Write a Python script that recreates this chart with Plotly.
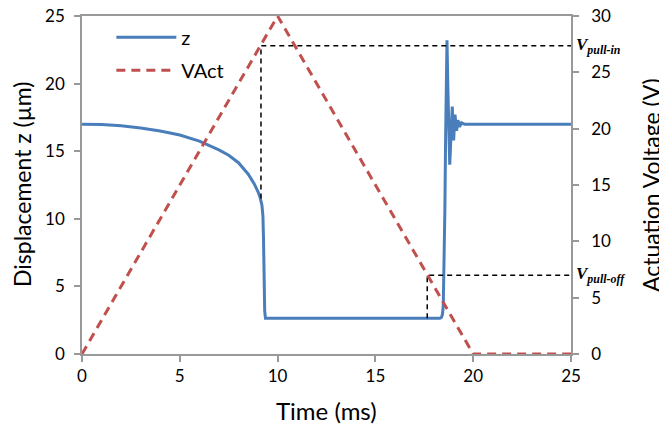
import plotly.graph_objects as go

# ---- data ----
time_z = [0, 1, 2, 3, 4, 5, 6, 7, 7.5, 8, 8.5, 8.8, 9.0, 9.1, 9.2, 9.25, 9.28, 9.31, 9.34, 9.38,
          18.3, 18.38, 18.43, 18.47, 18.51, 18.55, 18.59, 18.63, 18.66, 18.7, 18.75, 18.8,
          18.86, 18.93, 19.0, 19.07, 19.15, 19.22, 19.3, 19.4, 19.55, 25]
z_vals = [17.0, 16.97, 16.88, 16.72, 16.5, 16.2, 15.75, 15.1, 14.7, 14.15, 13.3, 12.6, 12.0, 11.6, 11.0, 10.2, 8.5, 5.5, 3.2, 2.65,
          2.65, 2.72, 2.95, 3.6, 6.0, 10.5, 16.0, 21.0, 23.2, 20.0, 15.5, 14.0,
          16.0, 18.3, 15.8, 17.7, 16.5, 17.3, 16.8, 17.1, 17.0, 17.0]

time_v = [0, 10, 20, 25]
v_vals = [0, 30, 0, 0]

pullin_t, pullin_v, pullin_z = 9.15, 27.35, 11.5
pulloff_t, pulloff_v, pulloff_z = 17.65, 7.0, 2.65

z_range = [0, 25]
v_range = [0, 30]
t_range = [0, 25]

BLUE = "#4A7EBB"
RED = "#C0504D"
GRAY = "#999999"
FONT = "Lato"

def z_to_v(z):
    return v_range[0] + (z - z_range[0]) * (v_range[1] - v_range[0]) / (z_range[1] - z_range[0])

fig = go.Figure()

# dashed guide lines (on voltage axis)
fig.add_trace(go.Scatter(x=[pullin_t, pullin_t, t_range[1]],
                         y=[z_to_v(pullin_z), pullin_v, pullin_v],
                         mode="lines", line=dict(color="black", width=1.5, dash="5px,4px"),
                         yaxis="y2", showlegend=False, hoverinfo="skip"))
fig.add_trace(go.Scatter(x=[pulloff_t, pulloff_t, t_range[1]],
                         y=[z_to_v(pulloff_z), pulloff_v, pulloff_v],
                         mode="lines", line=dict(color="black", width=1.5, dash="5px,4px"),
                         yaxis="y2", showlegend=False, hoverinfo="skip"))

fig.add_trace(go.Scatter(x=time_z, y=z_vals, mode="lines", name="z", legendgroup="a",
                         line=dict(color=BLUE, width=3), yaxis="y"))
fig.add_trace(go.Scatter(x=time_v, y=v_vals, mode="lines", name="VAct", legendgroup="b",
                         line=dict(color=RED, width=3, dash="9px,6px"), yaxis="y2"))

axis_common = dict(showline=True, linecolor=GRAY, linewidth=1.5, ticks="outside",
                   tickcolor=GRAY, ticklen=6, tickwidth=1.5, showgrid=False, zeroline=False,
                   automargin=False, ticklabeloverflow="allow",
                   tickfont=dict(family=FONT, size=17, color="black"))

# page body has an 8px default margin, so the figure is sized to fit the 667x429 window
fig.update_layout(
    width=659, height=421,
    margin=dict(l=74, r=96, t=8, b=75),
    plot_bgcolor="white", paper_bgcolor="white",
    font=dict(family=FONT, color="black"),
    xaxis=dict(range=t_range, dtick=5, mirror=True, **axis_common),
    yaxis=dict(range=z_range, dtick=5, ticklabelstandoff=6, **axis_common),
    yaxis2=dict(range=v_range, dtick=5, overlaying="y", side="right", ticklabelstandoff=9,
                **axis_common),
    legend=dict(x=0.06, y=0.995, xanchor="left", yanchor="top", bgcolor="rgba(0,0,0,0)",
                font=dict(family=FONT, size=20), itemwidth=60, tracegroupgap=4),
    showlegend=True,
)

# axis titles
fig.add_annotation(x=0.5, xref="paper", y=0, yref="paper", yshift=-56, yanchor="middle",
                   showarrow=False, text="Time (ms)", font=dict(family=FONT, size=24))
fig.add_annotation(x=0, xref="paper", xshift=-60, y=0.5, yref="paper", xanchor="center",
                   showarrow=False, text="Displacement z (µm)", textangle=-90,
                   font=dict(family=FONT, size=23))
fig.add_annotation(x=1, xref="paper", xshift=80, y=0.5, yref="paper", xanchor="center",
                   showarrow=False, text="Actuation Voltage (V)", textangle=-90,
                   font=dict(family=FONT, size=23))

fig.add_annotation(x=1.0, xref="paper", y=pullin_v, yref="y2", xanchor="left", yanchor="middle",
                   xshift=3, showarrow=False,
                   text="<b><i>V<sub>pull-in</sub></i></b>",
                   font=dict(family="Liberation Serif", size=17, color="black"))
fig.add_annotation(x=1.0, xref="paper", y=pulloff_v, yref="y2", xanchor="left", yanchor="middle",
                   xshift=3, showarrow=False,
                   text="<b><i>V<sub>pull-off</sub></i></b>",
                   font=dict(family="Liberation Serif", size=17, color="black"))

fig.write_html("out.html")
